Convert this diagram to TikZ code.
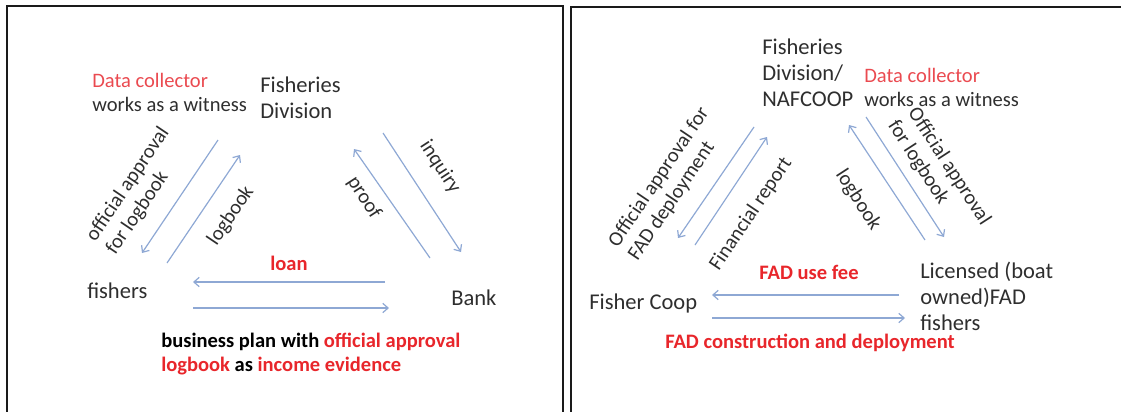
\documentclass[tikz,border=0pt]{standalone}
\usepackage{fontspec}
\setmainfont{Carlito}
\usepackage{tikz}
\usetikzlibrary{arrows.meta}
\definecolor{ink}{HTML}{2E2E2E}
\definecolor{alert}{HTML}{E8262B}
\definecolor{soft}{HTML}{EA4A50}
\definecolor{flowc}{HTML}{8EA8D4}
\definecolor{framec}{HTML}{1A1A1A}
\tikzset{
  box/.style={draw=framec, line width=1.6pt},
  flow/.style={draw=flowc, line width=0.9pt, -{Straight Barb[length=4pt,width=7pt]}},
  lab/.style={text=ink, font=\fontsize{16.9}{19.5}\selectfont, inner sep=0pt, align=left},
  note/.style={text=ink, font=\fontsize{15.4}{18}\selectfont, inner sep=0pt, align=left},
  hot/.style={text=alert, font=\fontsize{15.4}{18}\selectfont\bfseries, inner sep=0pt, align=left},
}

\begin{document}
\begin{tikzpicture}[x=0.75pt,y=-0.75pt]
  \useasboundingbox (0,0) rectangle (1121,411);
  \clip (0,0) rectangle (1121,411);
  \draw[box] (7,6) rectangle (563,440);
  \draw[box] (571,7) rectangle (1150,440);

  % left panel
  \node[lab, anchor=west] (fdL) at (260,97.5) {Fisheries\\Division};
  \node[note, anchor=west] (dcL) at (92,92) {\textcolor{soft}{Data collector}\\works as a witness};
  \node[lab, anchor=west] (fishL) at (87,291) {fishers};
  \node[lab, anchor=west] (bank) at (451,298) {Bank};
  \coordinate (apLs) at (218,140); \coordinate (apLe) at (142,253);
  \coordinate (lbLs) at (167,263); \coordinate (lbLe) at (240,155);
  \coordinate (prs) at (430,258);  \coordinate (pre) at (354,149);
  \coordinate (inqs) at (383,133); \coordinate (inqe) at (461,252);
  \coordinate (loans) at (385,282); \coordinate (loane) at (193,282);
  \coordinate (bps) at (193,308);  \coordinate (bpe) at (389,308);
  \draw[flow] (apLs) -- (apLe);
  \draw[flow] (lbLs) -- (lbLe);
  \draw[flow] (prs) -- (pre);
  \draw[flow] (inqs) -- (inqe);
  \draw[flow] (loans) -- (loane);
  \draw[flow] (bps) -- (bpe);
  \node[note, rotate=56] (apLt) at (138,191) {official approval\\for logbook};
  \node[note, rotate=56] (lbLt) at (231,216) {logbook};
  \node[note, rotate=-57] (prt) at (364,198) {proof};
  \node[note, rotate=-57] (inqt) at (440,167) {inquiry};
  \node[hot] (loant) at (289,263) {loan};
  \node[hot, anchor=west, text=black] (bpt) at (161,354.5)
    {business plan with \textcolor{alert}{official approval}\\\textcolor{alert}{logbook} as \textcolor{alert}{income evidence}};

  % right panel
  \node[lab, anchor=west] (fdR) at (762,72.5) {Fisheries\\Division/\\NAFCOOP};
  \node[note, anchor=west] (dcR) at (864,87.5) {\textcolor{soft}{Data collector}\\works as a witness};
  \node[lab, anchor=west] (coop) at (589,303) {Fisher Coop};
  \node[lab, anchor=west] (fad) at (920,296) {Licensed (boat\\owned)FAD\\fishers};
  \coordinate (apRs) at (754,127); \coordinate (apRe) at (678,238);
  \coordinate (fins) at (695,245); \coordinate (fine) at (767,137);
  \coordinate (lbRs) at (925,240); \coordinate (lbRe) at (849,125);
  \coordinate (alRs) at (866,117); \coordinate (alRe) at (944,237);
  \coordinate (fees) at (899,295); \coordinate (feee) at (712,295);
  \coordinate (cons) at (712,318); \coordinate (cone) at (905,318);
  \draw[flow] (apRs) -- (apRe);
  \draw[flow] (fins) -- (fine);
  \draw[flow] (lbRs) -- (lbRe);
  \draw[flow] (alRs) -- (alRe);
  \draw[flow] (fees) -- (feee);
  \draw[flow] (cons) -- (cone);
  \node[note, rotate=56] (apRt) at (669,184) {Official approval for\\FAD deployment};
  \node[note, rotate=56] (fint) at (751,214) {Financial report};
  \node[note, rotate=-57] (lbRt) at (858,200) {logbook};
  \node[note, rotate=-57] (alRt) at (939,173) {Official approval\\for logbook};
  \node[hot] (feet) at (809,272) {FAD use fee};
  \node[hot, anchor=west] (cont) at (665,343) {FAD construction and deployment};
\end{tikzpicture}
\end{document}
